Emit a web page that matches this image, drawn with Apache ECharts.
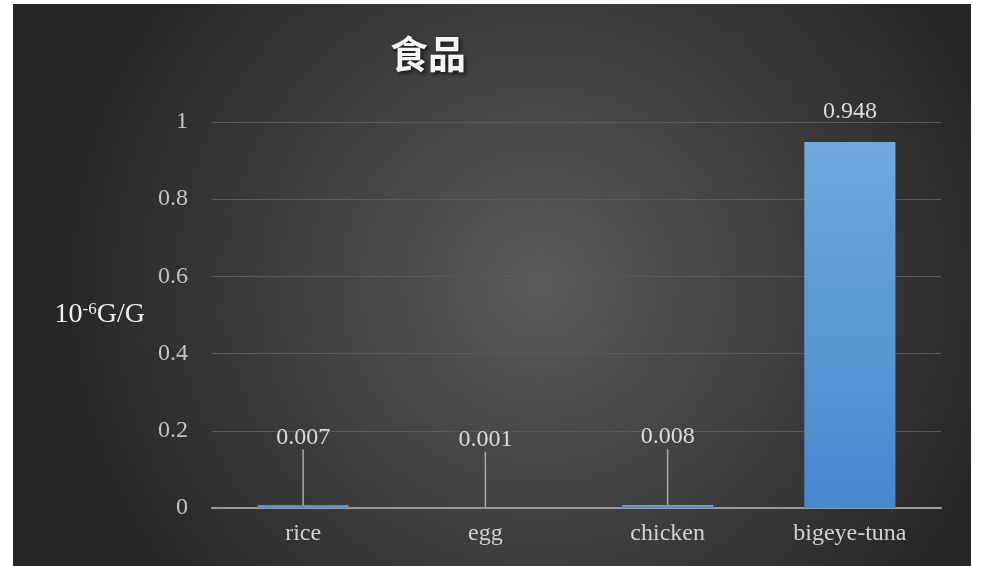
<!DOCTYPE html>
<html><head><meta charset="utf-8">
<script src="https://cdn.jsdelivr.net/npm/echarts@6/dist/echarts.min.js"></script>
<style>
html,body{margin:0;padding:0;background:#fff;width:983px;height:566px;overflow:hidden}
#c{position:absolute;left:13px;top:4px;width:958px;height:562px}
</style></head>
<body><div id="c"></div>
<script>
const titleText = '食品';
const yAxisName = '10{sup|-6}G/G';
const categories = ['rice', 'egg', 'chicken', 'bigeye-tuna'];
const values = [0.007, 0.001, 0.008, 0.948];
const yMin = 0, yMax = 1, yStep = 0.2;

const serif = '"Liberation Serif", "DejaVu Serif", serif';
const chart = echarts.init(document.getElementById('c'));
chart.setOption({
  backgroundColor: {
    type: 'radial', x: 0.55, y: 0.5, r: 0.85,
    colorStops: [{offset: 0, color: '#5a5a5a'}, {offset: 1, color: '#262626'}]
  },
  title: {
    text: titleText, left: 372, top: 26,
    textStyle: {
      fontFamily: '"Noto Sans CJK TC", "Noto Sans CJK SC", sans-serif',
      fontSize: 38, fontWeight: 'bold', color: '#f4f4f4',
      textShadowColor: 'rgba(0,0,0,0.7)', textShadowBlur: 4, textShadowOffsetX: 2, textShadowOffsetY: 2
    }
  },
  grid: {left: 199, right: 30, top: 118, bottom: 58, containLabel: false},
  xAxis: {
    type: 'category', data: categories,
    axisLine: {lineStyle: {color: '#9a9a9a', width: 2}},
    axisTick: {show: false},
    axisLabel: {color: '#d2d2d2', fontFamily: serif, fontSize: 24, margin: 14}
  },
  yAxis: {
    type: 'value', min: yMin, max: yMax, interval: yStep,
    name: yAxisName, nameLocation: 'middle', nameRotate: 0, nameGap: 67,
    nameTextStyle: {
      color: '#f0f0f0', fontFamily: serif, fontSize: 28, align: 'right',
      rich: {sup: {fontSize: 17, verticalAlign: 'top', color: '#f0f0f0', fontFamily: serif, padding: [0,0,10,0]}}
    },
    axisLine: {show: false}, axisTick: {show: false},
    axisLabel: {color: '#c4c4c4', fontFamily: serif, fontSize: 24, margin: 24},
    splitLine: {lineStyle: {color: '#5a5a5a', width: 1}}
  },
  series: [{
    type: 'bar', barWidth: '50%',
    data: values.map(v => ({
      value: v,
      labelLine: {show: v < 0.1}
    })),
    itemStyle: {
      color: {type: 'linear', x: 0, y: 0, x2: 0, y2: 1,
        colorStops: [{offset: 0, color: '#70a8dd'}, {offset: 1, color: '#4788cc'}]}
    },
    label: {
      show: true, position: 'top', distance: 18,
      color: '#dcdcdc', fontFamily: serif, fontSize: 24,
      formatter: p => String(p.value)
    },
    labelLayout: p => (values[p.dataIndex] < 0.1 ? {dy: -38} : {}),
    labelLine: {lineStyle: {color: '#a8a8a8', width: 1.5}}
  }]
});
</script></body></html>
